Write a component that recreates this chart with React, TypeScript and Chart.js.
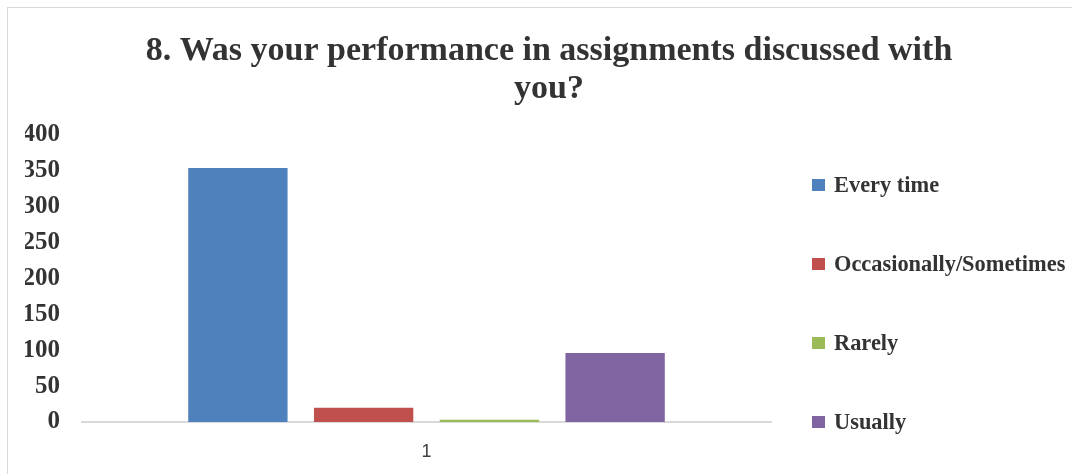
import React, { useEffect, useRef } from "react";
import { Chart, registerables } from "chart.js";

Chart.register(...registerables);

const categories = ["1"];
const seriesLabels = ["Every time", "Occasionally/Sometimes", "Rarely", "Usually"];
const everyTime = [354];
const occasionally = [20];
const rarely = [3];
const usually = [96];
const seriesColors = ["#4F81BD", "#C0504D", "#9BBB59", "#8064A2"];
const titleLines = ["8. Was your performance in assignments discussed with", "you?"];
const yMax = 400;
const yStep = 50;

const TEXT = "#333333";
const SERIF = "'Liberation Serif', 'Times New Roman', serif";

const decorPlugin = {
  id: "decor",
  afterDraw(chart: any) {
    const ctx = chart.ctx;
    const area = chart.chartArea;
    ctx.save();
    // title
    ctx.fillStyle = TEXT;
    ctx.font = `bold 34px ${SERIF}`;
    ctx.textAlign = "center";
    ctx.textBaseline = "alphabetic";
    ctx.fillText(titleLines[0], 541, 52);
    ctx.fillText(titleLines[1], 541, 90);
    // legend
    ctx.font = `bold 22.4px ${SERIF}`;
    ctx.textAlign = "left";
    ctx.textBaseline = "middle";
    const ds = chart.data.datasets;
    ds.forEach((d: any, i: number) => {
      const y = area.bottom - (ds.length - 1 - i) * 79;
      ctx.fillStyle = d.backgroundColor;
      ctx.fillRect(804, y - 6, 13, 12);
      ctx.fillStyle = TEXT;
      ctx.fillText(d.label, 826, y + 1);
    });
    ctx.restore();
  },
};

export default function App() {
  const ref = useRef<HTMLCanvasElement>(null);
  useEffect(() => {
    const values = [everyTime, occasionally, rarely, usually];
    const chart = new Chart(ref.current!, {
      type: "bar",
      data: {
        labels: categories,
        datasets: seriesLabels.map((label, i) => ({
          label,
          data: values[i],
          backgroundColor: seriesColors[i],
          categoryPercentage: 0.73,
          barPercentage: 0.79,
        })),
      },
      options: {
        responsive: false,
        animation: false,
        layout: { padding: { top: 127, right: 301, left: 17, bottom: 12 } },
        plugins: {
          legend: { display: false },
          title: { display: false },
          tooltip: { enabled: false },
        },
        scales: {
          x: {
            grid: { display: false, drawTicks: false },
            border: { display: true, color: "#d9d9d9", width: 2 },
            ticks: {
              color: "#404040",
              padding: 19,
              font: { family: "'Liberation Sans', Arial, sans-serif", size: 18 },
            },
            afterFit: (s: any) => {
              s.height = 40;
            },
          },
          y: {
            min: 0,
            max: yMax,
            grid: { display: false, drawTicks: false },
            border: { display: false },
            ticks: {
              stepSize: yStep,
              color: TEXT,
              padding: 22,
              font: { family: SERIF, size: 25, weight: "bold" },
            },
            afterFit: (s: any) => {
              s.width = 57;
            },
          },
        },
      },
      plugins: [decorPlugin],
    });
    return () => chart.destroy();
  }, []);
  return (
    <div
      style={{
        position: "absolute",
        left: 7,
        top: 7,
        width: 1065,
        height: 467,
        borderLeft: "1px solid #d9d9d9",
        borderTop: "1px solid #d9d9d9",
        boxSizing: "border-box",
        background: "#fff",
      }}
    >
      <canvas ref={ref} width={1064} height={466} style={{ display: "block" }} />
    </div>
  );
}
